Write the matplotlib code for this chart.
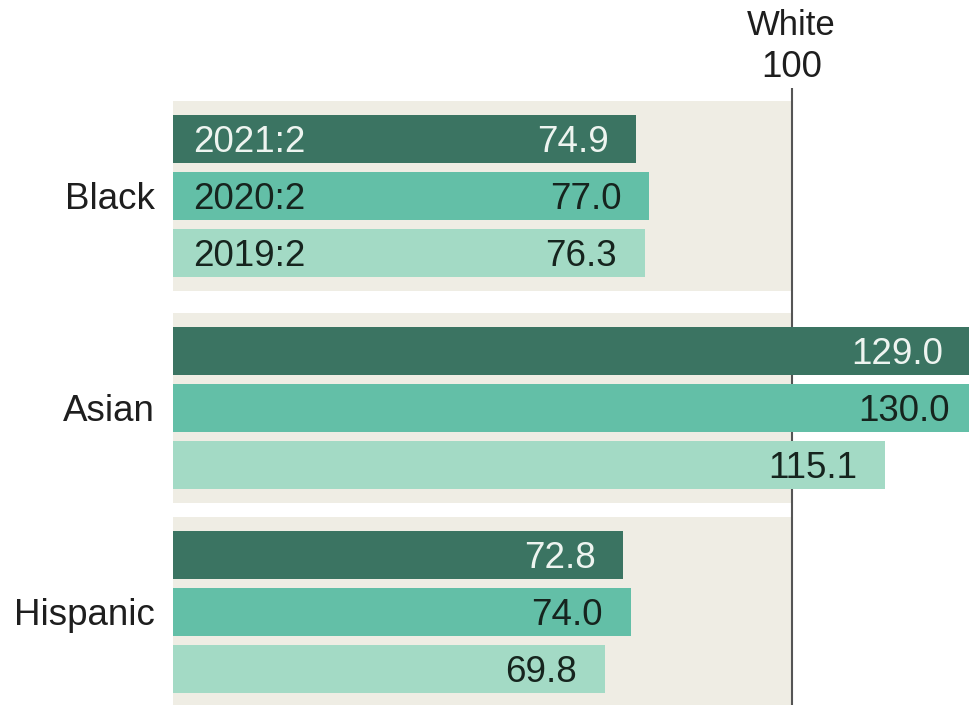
import matplotlib
matplotlib.use("Agg")
import matplotlib.pyplot as plt

# ---- data ----
groups = ["Black", "Asian", "Hispanic"]
periods = ["2021:2", "2020:2", "2019:2"]
values = {
    "Black":    [74.9, 77.0, 76.3],
    "Asian":    [129.0, 130.0, 115.1],
    "Hispanic": [72.8, 74.0, 69.8],
}
reference_label = "White"
reference_value = 100

# ---- style ----
colors = ["#3b7462", "#63bfa7", "#a3dac5"]
text_colors = ["#eef4f0", "#16241e", "#16241e"]
panel_color = "#efede4"
font = ["Liberation Sans", "DejaVu Sans"]
fs = 26.5

W, H = 969, 705
fig = plt.figure(figsize=(W / 100, H / 100), dpi=100)
ax = fig.add_axes([0, 0, 1, 1])

px_per_unit = 618.7 / 100.0
x0_px = 173
ax.set_xlim(-x0_px / px_per_unit, (W - x0_px) / px_per_unit)
ax.set_ylim(H, 0)
ax.axis("off")

group_centers = [196, 408, 612]
offsets = [-57, 0, 57]
bar_h = 48
panel_h = 190

for gi, g in enumerate(groups):
    c = group_centers[gi]
    # background panel
    ph = panel_h if gi < len(groups) - 1 else panel_h + 20
    pc = c if gi < len(groups) - 1 else c + 10
    ax.barh(pc, reference_value, height=ph, left=0, color=panel_color, zorder=0)
    for bi, v in enumerate(values[g]):
        y = c + offsets[bi]
        ax.barh(y, v, height=bar_h, left=0, color=colors[bi], zorder=2)
        ax.text(v - 4.5, y + 13, f"{v:.1f}", ha="right", va="baseline",
                fontsize=fs, color=text_colors[bi], family=font, zorder=4)
        if gi == 0:
            ax.text(3.2, y + 13, periods[bi], ha="left", va="baseline",
                    fontsize=fs, color=text_colors[bi], family=font, zorder=4)
    ax.text(-18 / px_per_unit, c + 13, g, ha="right", va="baseline",
            fontsize=fs, color="#1e1e1e", family=font)

ax.vlines(reference_value, 88, H, color="#555555", lw=1.5, zorder=1)
ax.text(reference_value, 35, reference_label, ha="center", va="baseline",
        fontsize=fs - 1.5, color="#1e1e1e", family=font)
ax.text(reference_value, 77, f"{reference_value}", ha="center", va="baseline",
        fontsize=fs, color="#1e1e1e", family=font)

fig.savefig("out.png", dpi=100)
